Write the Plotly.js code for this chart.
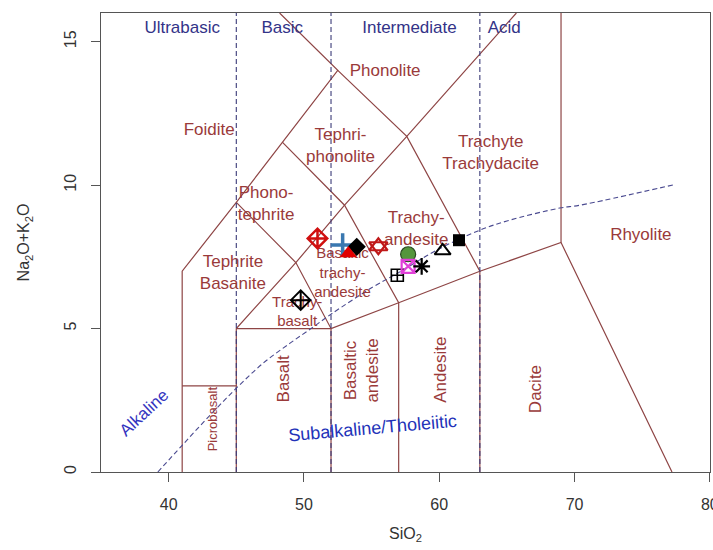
<!DOCTYPE html>
<html>
<head>
<meta charset="utf-8">
<script src="https://cdn.plot.ly/plotly-3.0.1.min.js"></script>
<style>html,body{margin:0;padding:0;background:#fff;}#chart{width:713px;height:550px;}</style>
</head>
<body>
<div id="chart"></div>
<script>
// ---- TAS field boundaries (SiO2, Na2O+K2O) ----
var bound1X = [41, 41, 45, 48.4, 52.5, 48.2];
var bound1Y = [0, 7, 9.4, 11.5, 14, 16];
var bound2X = [45, 45, 49.4, 53, 57.6, 61, 65.7];
var bound2Y = [0, 5, 7.3, 9.3, 11.7, 13.5, 16];
var bound3X = [45, 49.4, 52, 52];
var bound3Y = [9.4, 7.3, 5, 0];
var bound4X = [41, 45];
var bound4Y = [3, 3];
var bound5X = [45, 52, 57, 63, 69, 77.2];
var bound5Y = [5, 5, 5.9, 7, 8, 0];
var bound6X = [48.4, 53, 57, 57];
var bound6Y = [11.5, 9.3, 5.9, 0];
var bound7X = [52.5, 57.6, 63, 63];
var bound7Y = [14, 11.7, 7, 0];
var bound8X = [69, 69];
var bound8Y = [8, 16];

// silica class dividers
var dividerX = [45, 52, 63];
// alkaline / subalkaline divider (Irvine & Baragar)
var alkX = [39.2, 41, 43, 45, 47, 49, 50.7, 52, 55.1, 57, 59.8, 63, 65, 68.9, 70.4, 77.4];
var alkY = [0, 0.93, 1.95, 2.92, 3.8, 4.5, 5.06, 5.5, 6.45, 6.95, 7.73, 8.43, 8.75, 9.2, 9.3, 10.02];

// ---- sample points ----
var redDiamondX = [51.0], redDiamondY = [8.14];
var bluePlusX = [52.86], bluePlusY = [7.91];
var blackDiamondX = [53.9], blackDiamondY = [7.85];
var redTriangleX = [53.28], redTriangleY = [7.62];
var redStarX = [55.5], redStarY = [7.87];
var greenCircleX = [57.7], greenCircleY = [7.59];
var magentaSqX = [57.7], magentaSqY = [7.17];
var asteriskX = [58.7], asteriskY = [7.17];
var sqPlusX = [56.9], sqPlusY = [6.86];
var openTriX = [60.25], openTriY = [7.71];
var blackSqX = [61.46], blackSqY = [8.08];
var openDiamondX = [49.76], openDiamondY = [5.99];

// ---- labels ----
var fieldNames = ["Phonolite", "Foidite", "Tephri-<br>phonolite", "Trachyte<br>Trachydacite",
  "Phono-<br>tephrite", "Trachy-<br>andesite", "Tephrite<br>Basanite", "Rhyolite"];
var fieldX = [56.0, 43.0, 52.7, 63.8, 47.2, 58.3, 44.75, 74.9];
var fieldY = [13.94, 11.9, 11.35, 11.1, 9.3, 8.45, 6.9, 8.25];
var smallNames = ["Basaltic<br>trachy-<br>andesite", "Trachy-<br>basalt"];
var smallX = [52.85, 49.5];
var smallY = [6.9, 5.55];

var vertNames = ["Picrobasalt", "Basalt", "Basaltic<br>andesite", "Andesite", "Dacite"];
var vertX = [43.2, 48.45, 54.25, 60.1, 67.1];
var vertY = [1.87, 3.26, 3.55, 3.55, 2.9];

var classNames = ["Ultrabasic", "Basic", "Intermediate", "Acid"];
var classX = [41.0, 48.4, 57.8, 64.8];
var classY = 15.45;

var xTicks = [40, 50, 60, 70, 80];
var yTicks = [0, 5, 10, 15];

var BROWN = "#8E4545";
var TXT = "#9A3A3A";
var NAVY = "#3A3A78";
var F = "Liberation Sans, Arial, sans-serif";

var traces = [];
function bline(x, y) {
  traces.push({x: x, y: y, type: "scatter", mode: "lines", hoverinfo: "skip",
    line: {color: BROWN, width: 1.2}, showlegend: false});
}
bline(bound1X, bound1Y); bline(bound2X, bound2Y); bline(bound3X, bound3Y);
bline(bound4X, bound4Y); bline(bound5X, bound5Y); bline(bound6X, bound6Y);
bline(bound7X, bound7Y); bline(bound8X, bound8Y);

dividerX.forEach(function (d) {
  traces.push({x: [d, d], y: [0, 16], type: "scatter", mode: "lines", hoverinfo: "skip",
    line: {color: NAVY, width: 1.1, dash: "5px,3px"}, showlegend: false});
});
traces.push({x: alkX, y: alkY, type: "scatter", mode: "lines", hoverinfo: "skip",
  line: {color: "#4A4A90", width: 1.1, dash: "5px,3px", shape: "spline"}, showlegend: false});

// field labels as text traces (drawn below markers)
traces.push({x: fieldX, y: fieldY, text: fieldNames, type: "scatter", mode: "text",
  textposition: "middle center", hoverinfo: "skip", showlegend: false,
  textfont: {family: F, size: 17, color: TXT}});
traces.push({x: smallX, y: smallY, text: smallNames, type: "scatter", mode: "text",
  textposition: "middle center", hoverinfo: "skip", showlegend: false,
  textfont: {family: F, size: 15, color: TXT}});
traces.push({x: classX, y: classX.map(function () { return classY; }), text: classNames,
  type: "scatter", mode: "text", textposition: "middle center", hoverinfo: "skip", showlegend: false,
  textfont: {family: F, size: 17, color: "#333388"}});

function pt(x, y, symbol, size, color, lineColor, lw) {
  traces.push({x: x, y: y, type: "scatter", mode: "markers", showlegend: false,
    marker: {symbol: symbol, size: size, color: color, line: {color: lineColor, width: lw}}});
}
pt(openDiamondX, openDiamondY, "diamond-cross-open", 15, "#000", "#000", 2);
pt(redDiamondX, redDiamondY, "diamond-cross-open", 15, "#D01010", "#D01010", 2.5);
pt(bluePlusX, bluePlusY, "cross-thin-open", 17, "#3A78B0", "#3A78B0", 3.5);
pt(blackDiamondX, blackDiamondY, "diamond", 14, "#000", "#000", 0);
pt(redTriangleX, redTriangleY, "triangle-up", 15, "#E00000", "#E00000", 0);
pt(redStarX, redStarY, "triangle-up-open", 16, "#C01818", "#C01818", 2.2);
pt(redStarX, redStarY, "triangle-down-open", 16, "#C01818", "#C01818", 2.2);
pt(sqPlusX, sqPlusY, "square-cross-open", 12, "#000", "#000", 1.6);
pt(greenCircleX, greenCircleY, "circle", 15, "#55963C", "#2A4A20", 1.2);
pt(magentaSqX, magentaSqY, "square-x-open", 13, "#E040D8", "#E040D8", 2.2);
pt(asteriskX, asteriskY, "asterisk-open", 14, "#000", "#000", 2.2);
pt(openTriX, openTriY, "triangle-up-open", 14, "#000", "#000", 2);
pt(blackSqX, blackSqY, "square", 12, "#000", "#000", 0);

var annotations = [];
vertNames.forEach(function (n, i) {
  annotations.push({x: vertX[i], y: vertY[i], xref: "x", yref: "y", text: n, showarrow: false,
    textangle: -90, font: {family: F, size: i === 0 ? 13 : 17, color: TXT}, align: "center"});
});
annotations.push({x: 38.2, y: 2.08, xref: "x", yref: "y", text: "Alkaline", showarrow: false,
  textangle: -43, font: {family: F, size: 17, color: "#3535C0"}});
annotations.push({x: 55.1, y: 1.55, xref: "x", yref: "y", text: "Subalkaline/Tholeiitic", showarrow: false,
  textangle: -5, font: {family: F, size: 18, color: "#2232B8"}});
annotations.push({x: 0.5, y: -0.137, xref: "paper", yref: "paper", text: "SiO<sub>2</sub>", showarrow: false,
  xanchor: "center", yanchor: "middle", font: {family: F, size: 16, color: "#333"}});
annotations.push({x: -0.125, y: 0.5, xref: "paper", yref: "paper", text: "Na<sub>2</sub>O+K<sub>2</sub>O",
  showarrow: false, textangle: -90, xanchor: "center", yanchor: "middle", font: {family: F, size: 16, color: "#333"}});

var layout = {
  width: 713, height: 550,
  margin: {l: 101, r: 3, t: 13, b: 78, pad: 0},
  paper_bgcolor: "#fff", plot_bgcolor: "#fff",
  showlegend: false,
  xaxis: {range: [35, 80.01], tickvals: xTicks, ticktext: xTicks.map(String), showgrid: false, zeroline: false,
    showline: true, mirror: true, linecolor: "#555", linewidth: 1, ticks: "outside", ticklen: 9,
    tickcolor: "#555", tickfont: {family: F, size: 16, color: "#333"}, ticklabelstandoff: 9,
    ticklabeloverflow: "allow", fixedrange: true},
  yaxis: {range: [0, 16], tickvals: yTicks, ticktext: yTicks.map(String), showgrid: false, zeroline: false,
    showline: true, mirror: true, linecolor: "#555", linewidth: 1, ticks: "outside", ticklen: 9,
    tickcolor: "#555", tickangle: -90, tickfont: {family: F, size: 16, color: "#333"}, ticklabelstandoff: 9,
    ticklabeloverflow: "allow", fixedrange: true},
  annotations: annotations
};
Plotly.newPlot("chart", traces, layout, {displayModeBar: false, staticPlot: true});
</script>
</body>
</html>
